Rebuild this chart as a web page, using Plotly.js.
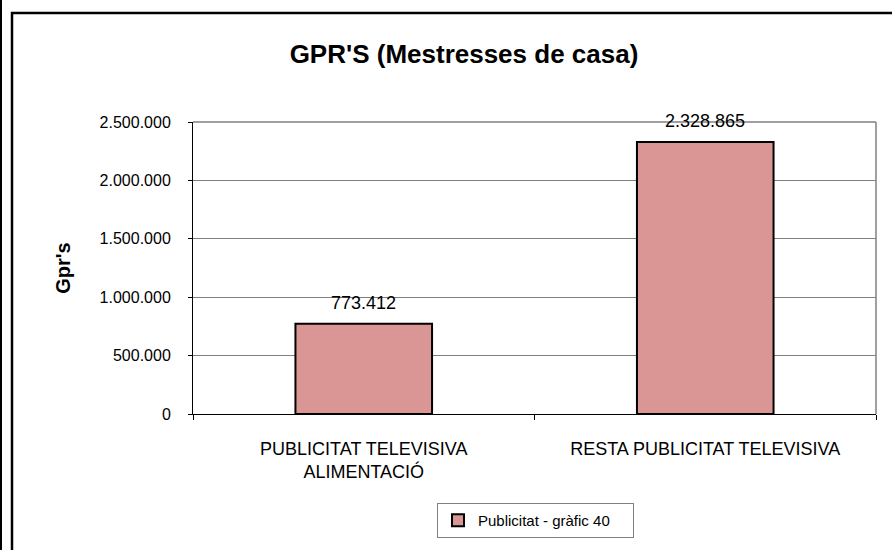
<!DOCTYPE html>
<html>
<head>
<meta charset="utf-8">
<script src="https://cdn.plot.ly/plotly-3.0.1.min.js"></script>
<style>html,body{margin:0;padding:0;background:#fff;}#chart{width:892px;height:550px;}</style>
</head>
<body>
<div id="chart"></div>
<script>
const categories = ["PUBLICITAT TELEVISIVA<br>ALIMENTACIÓ", "RESTA PUBLICITAT TELEVISIVA"];
const values = [773412, 2328865];
const seriesName = "Publicitat - gràfic 40";
const yTickVals = [0, 500000, 1000000, 1500000, 2000000, 2500000];

function fmt(v) {
  return String(Math.round(v)).replace(/\B(?=(\d{3})+(?!\d))/g, ".");
}

const FONT = "Liberation Sans, Arial, sans-serif";

// plot area in pixels: x 193..876, y 122..417
const L = 193, R = 876, T = 122, B = 417, W = 892, H = 550;
const px = x => (x - L) / (R - L);
const py = y => (B - y) / (B - T);

const trace = {
  type: "bar",
  x: categories,
  y: values,
  name: seriesName,
  width: 0.4,
  marker: { color: "#D99694", line: { color: "#000000", width: 2 } },
  showlegend: true,
  hoverinfo: "skip"
};

const annotations = values.map((v, i) => ({
  x: categories[i], y: v, xref: "x", yref: "y",
  text: fmt(v), showarrow: false, yanchor: "middle", yshift: 21,
  font: { family: FONT, size: 18, color: "#000" }
}));

const layout = {
  width: W, height: H,
  margin: { l: L, r: W - R, t: T, b: H - B, pad: 0 },
  paper_bgcolor: "#ffffff",
  plot_bgcolor: "rgba(0,0,0,0)",
  separators: ",.",
  font: { family: FONT, color: "#000" },
  title: {
    text: "<b>GPR'S (Mestresses de casa)</b>",
    font: { family: FONT, size: 26, color: "#000" },
    xref: "container", yref: "container",
    x: 464 / W, xanchor: "center",
    y: 1 - 54 / H, yanchor: "middle"
  },
  xaxis: {
    type: "category",
    range: [-0.5, 1.5],
    showgrid: false,
    showline: true, linecolor: "#000", linewidth: 1,
    ticks: "outside", tickson: "boundaries", ticklen: 5, tickcolor: "#000", tickwidth: 1,
    tickfont: { family: FONT, size: 18, color: "#000" },
    ticklabelstandoff: 18,
    automargin: false, fixedrange: true
  },
  yaxis: {
    range: [0, 2500000],
    tickvals: yTickVals,
    tickformat: ",d",
    showgrid: true, gridcolor: "#808080", gridwidth: 1,
    zeroline: false,
    showline: true, linecolor: "#000", linewidth: 1,
    ticks: "outside", ticklen: 4, tickcolor: "#000", tickwidth: 1,
    tickfont: { family: FONT, size: 16, color: "#000" },
    ticklabelstandoff: 14,
    title: { text: "<b>Gpr's</b>", font: { family: FONT, size: 20, color: "#000" }, standoff: 23 },
    automargin: false, fixedrange: true
  },
  showlegend: true,
  legend: {
    orientation: "h",
    x: px(437), xanchor: "left",
    y: py(507), yanchor: "top",
    entrywidth: 150,
    bgcolor: "#ffffff", bordercolor: "#808080", borderwidth: 1,
    font: { family: FONT, size: 15, color: "#000" }
  },
  annotations: annotations,
  shapes: [
    // plot area border top & right
    { type: "line", xref: "paper", yref: "paper", x0: 0, x1: 1, y0: 1, y1: 1, line: { color: "#808080", width: 1.5 }, layer: "above" },
    { type: "line", xref: "paper", yref: "paper", x0: 1, x1: 1, y0: 0, y1: 1, line: { color: "#808080", width: 1.5 }, layer: "above" },
    // chart area border
    { type: "rect", xref: "paper", yref: "paper", x0: px(12), x1: px(920), y0: py(12), y1: py(580), line: { color: "#000", width: 2.5 }, layer: "below" },
    // outer left line
    { type: "line", xref: "paper", yref: "paper", x0: px(1), x1: px(1), y0: py(-10), y1: py(580), line: { color: "#000", width: 2 }, layer: "below" }
  ]
};

Plotly.newPlot("chart", [trace], layout, { displayModeBar: false, staticPlot: true });
</script>
</body>
</html>
